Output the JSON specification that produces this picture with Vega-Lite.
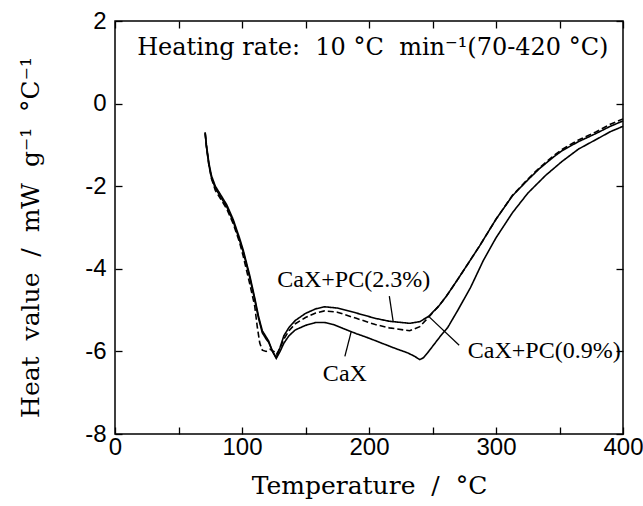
{
  "$schema": "https://vega.github.io/schema/vega-lite/v6.json",
  "width": 508,
  "height": 413,
  "autosize": {"type": "none"},
  "padding": {"left": 115, "top": 21, "right": 20, "bottom": 72},
  "background": "white",
  "config": {
    "view": {"stroke": "black", "strokeWidth": 1.5},
    "axis": {"grid": false, "domain": false, "tickColor": "black", "labelColor": "black", "titleColor": "black", "tickWidth": 1.3}
  },
  "datasets": {
    "curves": [
      {"series": "CaX", "T": 71, "H": -0.7}, {"series": "CaX", "T": 72, "H": -1.05}, {"series": "CaX", "T": 74, "H": -1.5}, {"series": "CaX", "T": 76, "H": -1.8}, {"series": "CaX", "T": 79, "H": -2.05}, {"series": "CaX", "T": 83, "H": -2.25}, {"series": "CaX", "T": 88, "H": -2.5}, {"series": "CaX", "T": 93, "H": -2.85}, {"series": "CaX", "T": 98, "H": -3.3}, {"series": "CaX", "T": 101, "H": -3.6}, {"series": "CaX", "T": 106, "H": -4.2}, {"series": "CaX", "T": 110, "H": -4.75}, {"series": "CaX", "T": 113, "H": -5.2}, {"series": "CaX", "T": 116, "H": -5.55}, {"series": "CaX", "T": 119, "H": -5.7}, {"series": "CaX", "T": 121, "H": -5.78}, {"series": "CaX", "T": 124, "H": -6.0}, {"series": "CaX", "T": 127, "H": -6.17}, {"series": "CaX", "T": 130, "H": -6.0}, {"series": "CaX", "T": 133, "H": -5.8}, {"series": "CaX", "T": 137, "H": -5.62}, {"series": "CaX", "T": 142, "H": -5.48}, {"series": "CaX", "T": 150, "H": -5.37}, {"series": "CaX", "T": 158, "H": -5.3}, {"series": "CaX", "T": 165, "H": -5.3}, {"series": "CaX", "T": 172, "H": -5.35}, {"series": "CaX", "T": 180, "H": -5.45}, {"series": "CaX", "T": 190, "H": -5.57}, {"series": "CaX", "T": 200, "H": -5.68}, {"series": "CaX", "T": 210, "H": -5.8}, {"series": "CaX", "T": 220, "H": -5.92}, {"series": "CaX", "T": 230, "H": -6.03}, {"series": "CaX", "T": 236, "H": -6.12}, {"series": "CaX", "T": 240, "H": -6.2}, {"series": "CaX", "T": 243, "H": -6.15}, {"series": "CaX", "T": 247, "H": -6.0}, {"series": "CaX", "T": 252, "H": -5.8}, {"series": "CaX", "T": 257, "H": -5.6}, {"series": "CaX", "T": 262, "H": -5.42}, {"series": "CaX", "T": 270, "H": -5.0}, {"series": "CaX", "T": 280, "H": -4.45}, {"series": "CaX", "T": 290, "H": -3.8}, {"series": "CaX", "T": 300, "H": -3.25}, {"series": "CaX", "T": 313, "H": -2.64}, {"series": "CaX", "T": 325, "H": -2.17}, {"series": "CaX", "T": 339, "H": -1.74}, {"series": "CaX", "T": 352, "H": -1.4}, {"series": "CaX", "T": 365, "H": -1.1}, {"series": "CaX", "T": 380, "H": -0.85}, {"series": "CaX", "T": 390, "H": -0.68}, {"series": "CaX", "T": 400, "H": -0.55},

      {"series": "CaX+PC(2.3%)", "T": 71, "H": -0.7}, {"series": "CaX+PC(2.3%)", "T": 72, "H": -1.0}, {"series": "CaX+PC(2.3%)", "T": 74, "H": -1.45}, {"series": "CaX+PC(2.3%)", "T": 76, "H": -1.75}, {"series": "CaX+PC(2.3%)", "T": 79, "H": -2.0}, {"series": "CaX+PC(2.3%)", "T": 83, "H": -2.2}, {"series": "CaX+PC(2.3%)", "T": 88, "H": -2.45}, {"series": "CaX+PC(2.3%)", "T": 93, "H": -2.8}, {"series": "CaX+PC(2.3%)", "T": 98, "H": -3.25}, {"series": "CaX+PC(2.3%)", "T": 101, "H": -3.55}, {"series": "CaX+PC(2.3%)", "T": 106, "H": -4.15}, {"series": "CaX+PC(2.3%)", "T": 110, "H": -4.7}, {"series": "CaX+PC(2.3%)", "T": 113, "H": -5.15}, {"series": "CaX+PC(2.3%)", "T": 116, "H": -5.5}, {"series": "CaX+PC(2.3%)", "T": 119, "H": -5.65}, {"series": "CaX+PC(2.3%)", "T": 121, "H": -5.75}, {"series": "CaX+PC(2.3%)", "T": 124, "H": -6.0}, {"series": "CaX+PC(2.3%)", "T": 127, "H": -6.15}, {"series": "CaX+PC(2.3%)", "T": 130, "H": -5.9}, {"series": "CaX+PC(2.3%)", "T": 133, "H": -5.62}, {"series": "CaX+PC(2.3%)", "T": 137, "H": -5.42}, {"series": "CaX+PC(2.3%)", "T": 142, "H": -5.25}, {"series": "CaX+PC(2.3%)", "T": 150, "H": -5.08}, {"series": "CaX+PC(2.3%)", "T": 158, "H": -4.97}, {"series": "CaX+PC(2.3%)", "T": 165, "H": -4.92}, {"series": "CaX+PC(2.3%)", "T": 175, "H": -4.95}, {"series": "CaX+PC(2.3%)", "T": 190, "H": -5.07}, {"series": "CaX+PC(2.3%)", "T": 205, "H": -5.2}, {"series": "CaX+PC(2.3%)", "T": 216, "H": -5.27}, {"series": "CaX+PC(2.3%)", "T": 232, "H": -5.32}, {"series": "CaX+PC(2.3%)", "T": 240, "H": -5.28}, {"series": "CaX+PC(2.3%)", "T": 247, "H": -5.15}, {"series": "CaX+PC(2.3%)", "T": 255, "H": -4.9}, {"series": "CaX+PC(2.3%)", "T": 261, "H": -4.66}, {"series": "CaX+PC(2.3%)", "T": 270, "H": -4.25}, {"series": "CaX+PC(2.3%)", "T": 280, "H": -3.78}, {"series": "CaX+PC(2.3%)", "T": 287, "H": -3.45}, {"series": "CaX+PC(2.3%)", "T": 300, "H": -2.8}, {"series": "CaX+PC(2.3%)", "T": 313, "H": -2.23}, {"series": "CaX+PC(2.3%)", "T": 325, "H": -1.85}, {"series": "CaX+PC(2.3%)", "T": 334, "H": -1.58}, {"series": "CaX+PC(2.3%)", "T": 345, "H": -1.3}, {"series": "CaX+PC(2.3%)", "T": 352, "H": -1.14}, {"series": "CaX+PC(2.3%)", "T": 365, "H": -0.92}, {"series": "CaX+PC(2.3%)", "T": 379, "H": -0.72}, {"series": "CaX+PC(2.3%)", "T": 390, "H": -0.55}, {"series": "CaX+PC(2.3%)", "T": 400, "H": -0.42},

      {"series": "CaX+PC(0.9%)", "T": 71, "H": -0.72}, {"series": "CaX+PC(0.9%)", "T": 72, "H": -1.05}, {"series": "CaX+PC(0.9%)", "T": 74, "H": -1.5}, {"series": "CaX+PC(0.9%)", "T": 76, "H": -1.82}, {"series": "CaX+PC(0.9%)", "T": 79, "H": -2.1}, {"series": "CaX+PC(0.9%)", "T": 83, "H": -2.3}, {"series": "CaX+PC(0.9%)", "T": 88, "H": -2.55}, {"series": "CaX+PC(0.9%)", "T": 93, "H": -2.9}, {"series": "CaX+PC(0.9%)", "T": 98, "H": -3.35}, {"series": "CaX+PC(0.9%)", "T": 101, "H": -3.7}, {"series": "CaX+PC(0.9%)", "T": 106, "H": -4.35}, {"series": "CaX+PC(0.9%)", "T": 110, "H": -4.9}, {"series": "CaX+PC(0.9%)", "T": 112, "H": -5.4}, {"series": "CaX+PC(0.9%)", "T": 114, "H": -5.8}, {"series": "CaX+PC(0.9%)", "T": 116, "H": -5.97}, {"series": "CaX+PC(0.9%)", "T": 119, "H": -6.0}, {"series": "CaX+PC(0.9%)", "T": 122, "H": -5.95}, {"series": "CaX+PC(0.9%)", "T": 125, "H": -6.0}, {"series": "CaX+PC(0.9%)", "T": 127, "H": -6.08}, {"series": "CaX+PC(0.9%)", "T": 130, "H": -5.92}, {"series": "CaX+PC(0.9%)", "T": 133, "H": -5.7}, {"series": "CaX+PC(0.9%)", "T": 137, "H": -5.5}, {"series": "CaX+PC(0.9%)", "T": 142, "H": -5.33}, {"series": "CaX+PC(0.9%)", "T": 150, "H": -5.18}, {"series": "CaX+PC(0.9%)", "T": 158, "H": -5.07}, {"series": "CaX+PC(0.9%)", "T": 165, "H": -5.02}, {"series": "CaX+PC(0.9%)", "T": 175, "H": -5.05}, {"series": "CaX+PC(0.9%)", "T": 190, "H": -5.2}, {"series": "CaX+PC(0.9%)", "T": 205, "H": -5.35}, {"series": "CaX+PC(0.9%)", "T": 216, "H": -5.43}, {"series": "CaX+PC(0.9%)", "T": 232, "H": -5.5}, {"series": "CaX+PC(0.9%)", "T": 240, "H": -5.4}, {"series": "CaX+PC(0.9%)", "T": 247, "H": -5.17}, {"series": "CaX+PC(0.9%)", "T": 255, "H": -4.9}, {"series": "CaX+PC(0.9%)", "T": 261, "H": -4.66}, {"series": "CaX+PC(0.9%)", "T": 270, "H": -4.25}, {"series": "CaX+PC(0.9%)", "T": 280, "H": -3.78}, {"series": "CaX+PC(0.9%)", "T": 287, "H": -3.45}, {"series": "CaX+PC(0.9%)", "T": 300, "H": -2.8}, {"series": "CaX+PC(0.9%)", "T": 313, "H": -2.22}, {"series": "CaX+PC(0.9%)", "T": 325, "H": -1.83}, {"series": "CaX+PC(0.9%)", "T": 334, "H": -1.56}, {"series": "CaX+PC(0.9%)", "T": 345, "H": -1.27}, {"series": "CaX+PC(0.9%)", "T": 352, "H": -1.11}, {"series": "CaX+PC(0.9%)", "T": 365, "H": -0.88}, {"series": "CaX+PC(0.9%)", "T": 379, "H": -0.68}, {"series": "CaX+PC(0.9%)", "T": 390, "H": -0.5}, {"series": "CaX+PC(0.9%)", "T": 400, "H": -0.37}
    ],
    "leaders": [
      {"T": 216, "H": -4.66, "T2": 219, "H2": -5.27},
      {"T": 186, "H": -5.52, "T2": 181, "H2": -6.12},
      {"T": 247.6, "H": -5.17, "T2": 271, "H2": -5.85}
    ],
    "notes": [
      {"label": "Heating rate:\u00a0 10 °C\u00a0 min⁻¹(70-420 °C)", "T": 203, "H": 1.35, "kind": "big"},
      {"label": "CaX+PC(2.3%)", "T": 188, "H": -4.27, "kind": "small"},
      {"label": "CaX", "T": 181, "H": -6.55, "kind": "small"},
      {"label": "CaX+PC(0.9%)", "T": 338, "H": -6.0, "kind": "small"}
    ]
  },
  "layer": [
    {
      "data": {"name": "curves"},
      "mark": {"type": "line", "color": "black", "strokeWidth": 1.6},
      "encoding": {
        "x": {"field": "T", "type": "quantitative", "scale": {"domain": [0, 400], "nice": false},
          "axis": {"orient": "bottom", "values": [0, 50, 100, 150, 200, 250, 300, 350, 400], "labelExpr": "datum.value % 100 === 0 ? '' + datum.value : ''", "tickSize": -7, "labelPadding": 8, "labelFont": "Liberation Sans", "labelFontSize": 24, "title": "Temperature\u00a0 /\u00a0 °C", "titleFont": "DejaVu Serif", "titleFontSize": 25, "titleFontWeight": "normal", "titlePadding": 14, "labelFlush": false}},
        "y": {"field": "H", "type": "quantitative", "scale": {"domain": [-8, 2], "nice": false},
          "axis": {"orient": "left", "values": [-8, -6, -4, -2, 0, 2], "labelExpr": "'' + datum.value", "tickSize": -7, "labelPadding": 16, "labelFont": "Liberation Sans", "labelFontSize": 24, "title": "Heat\u00a0 value\u00a0 /\u00a0 mW\u00a0 g⁻¹\u00a0 °C⁻¹", "titleFont": "DejaVu Serif", "titleFontSize": 25, "titleFontWeight": "normal", "titleX": -72, "titleY": 216, "labelFlush": false}},
        "detail": {"field": "series"},
        "strokeDash": {"field": "series", "type": "nominal", "scale": {"domain": ["CaX", "CaX+PC(2.3%)", "CaX+PC(0.9%)"], "range": [[1, 0], [1, 0], [6, 3]]}, "legend": null}
      }
    },
    {
      "data": {"name": "leaders"},
      "mark": {"type": "rule", "color": "black", "strokeWidth": 1.3},
      "encoding": {
        "x": {"field": "T", "type": "quantitative", "axis": null},
        "y": {"field": "H", "type": "quantitative", "axis": null},
        "x2": {"field": "T2"},
        "y2": {"field": "H2"}
      }
    },
    {
      "data": {"name": "notes"},
      "transform": [{"filter": "datum.kind === 'small'"}],
      "mark": {"type": "text", "font": "Liberation Serif", "fontSize": 24, "color": "black", "align": "center", "baseline": "middle"},
      "encoding": {
        "x": {"field": "T", "type": "quantitative", "axis": null},
        "y": {"field": "H", "type": "quantitative", "axis": null},
        "text": {"field": "label"}
      }
    },
    {
      "data": {"name": "notes"},
      "transform": [{"filter": "datum.kind === 'big'"}],
      "mark": {"type": "text", "font": "DejaVu Serif", "fontSize": 24, "color": "black", "align": "center", "baseline": "middle"},
      "encoding": {
        "x": {"field": "T", "type": "quantitative", "axis": {"orient": "top", "values": [0, 50, 100, 150, 200, 250, 300, 350, 400], "labels": false, "title": null, "tickSize": -7}},
        "y": {"field": "H", "type": "quantitative", "axis": {"orient": "right", "values": [-8, -6, -4, -2, 0, 2], "labels": false, "title": null, "tickSize": -7}},
        "text": {"field": "label"}
      }
    }
  ],
  "resolve": {"axis": {"x": "independent", "y": "independent"}}
}
